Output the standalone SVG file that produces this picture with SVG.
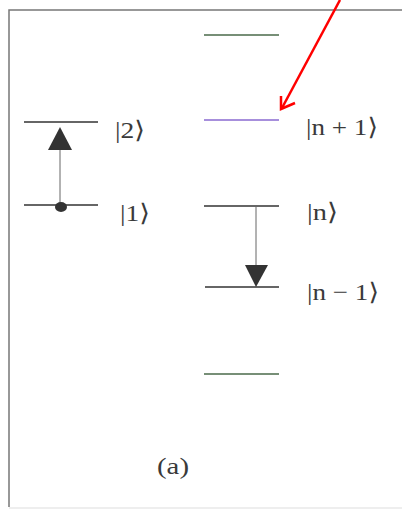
<svg xmlns="http://www.w3.org/2000/svg" width="402" height="510" viewBox="0 0 402 510">
<defs>
<style>
.t{font-family:"Liberation Serif","DejaVu Serif",serif;font-size:24px;fill:#3a3a3a}
.lv{stroke:#333;stroke-width:1.6}
.g{stroke:#4a6a4a;stroke-width:1.6}
.p{stroke:#8a6ad0;stroke-width:1.6}
</style>
</defs>
<rect width="402" height="510" fill="#fff"/>
<g id="frame" fill="none" stroke="#777" stroke-width="1.5">
<path d="M9,507 V10 H402"/>
<line x1="9" y1="508" x2="402" y2="508" stroke="#ddd" stroke-width="1"/>
</g>
<g id="level-2"><line class="lv" x1="24" y1="122" x2="98" y2="122"/><text class="t" x="115" y="138" textLength="30" lengthAdjust="spacingAndGlyphs">|2⟩</text></g>
<g id="level-1"><line class="lv" x1="24" y1="205" x2="98" y2="205"/><text class="t" x="120" y="221" textLength="30" lengthAdjust="spacingAndGlyphs">|1⟩</text></g>
<g id="level-top"><line class="g" x1="204" y1="35" x2="279" y2="35"/></g>
<g id="level-n1"><line class="p" x1="204" y1="120" x2="279" y2="120"/><text class="t" x="306" y="135" textLength="72" lengthAdjust="spacingAndGlyphs">|n + 1⟩</text></g>
<g id="level-n"><line class="lv" x1="204" y1="206" x2="279" y2="206"/><text class="t" x="307" y="220" textLength="31" lengthAdjust="spacingAndGlyphs">|n⟩</text></g>
<g id="level-nm1"><line class="lv" x1="205" y1="287" x2="279" y2="287"/><text class="t" x="307" y="300" textLength="72" lengthAdjust="spacingAndGlyphs">|n − 1⟩</text></g>
<g id="level-bottom"><line class="g" x1="204" y1="374" x2="279" y2="374"/></g>
<g id="connectors">
<line x1="60" y1="205" x2="60" y2="148" stroke="#666" stroke-width="1"/>
<polygon points="60,127 48,150 72,150" fill="#333"/>
<ellipse cx="61" cy="207" rx="6" ry="5" fill="#333"/>
<line x1="256" y1="206" x2="256" y2="266" stroke="#666" stroke-width="1"/>
<polygon points="245,265 268,265 256,287" fill="#333"/>
<line x1="340" y1="0" x2="282" y2="108" stroke="#f00" stroke-width="2.5"/>
<polyline points="281,96 281,109 295,103" fill="none" stroke="#f00" stroke-width="2.5"/>
</g>
<g id="caption"><text class="t" x="157" y="474" textLength="32" lengthAdjust="spacingAndGlyphs">(a)</text></g>
</svg>
